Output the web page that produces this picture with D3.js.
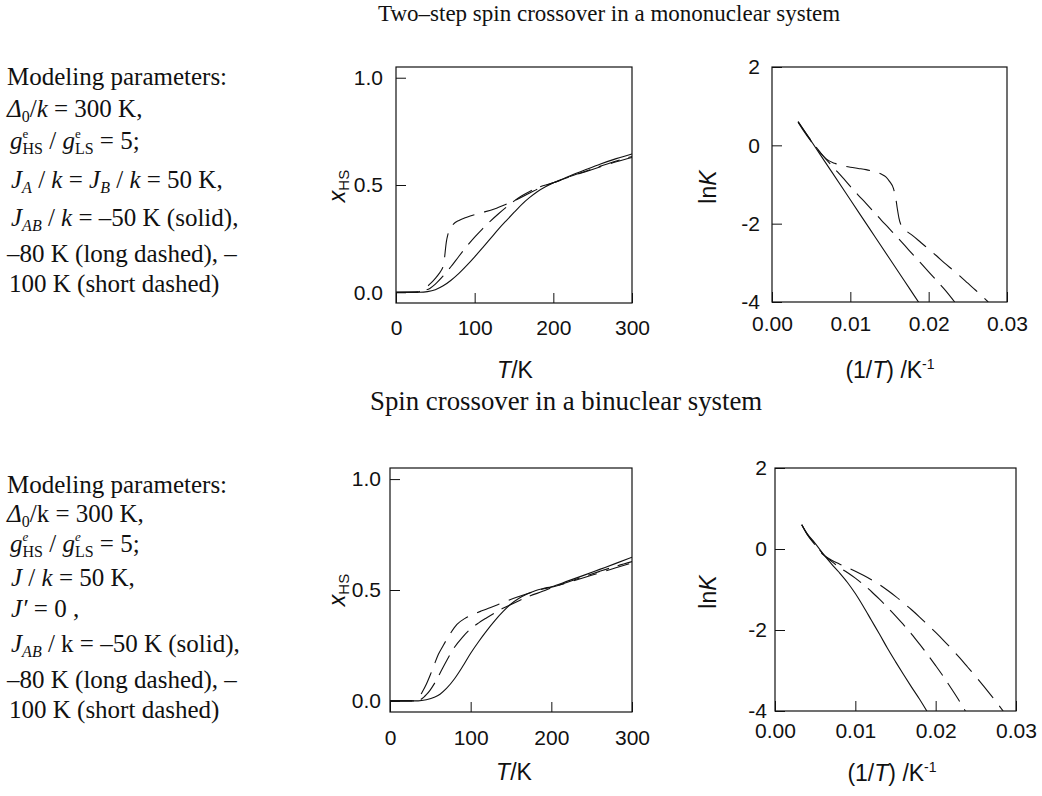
<!DOCTYPE html>
<html>
<head>
<meta charset="utf-8">
<script src="https://cdn.jsdelivr.net/npm/d3@7"></script>
<style>
  body { margin: 0; background: #fff; }
  svg { display: block; }
  .tick text { font-family: "Liberation Sans", Arial, sans-serif; font-size: 21px; fill: #111; }
  .tick line { stroke: #111; stroke-width: 1; }
  .axisTitle { font-family: "Liberation Sans", Arial, sans-serif; font-size: 23px; fill: #111; }
  .note { font-family: "Liberation Serif", "Times New Roman", serif; font-size: 25px; fill: #111; }
  .title { font-family: "Liberation Serif", "Times New Roman", serif; fill: #111; }
</style>
</head>
<body>
<div id="chart"></div>
<script>
// ---- data ----
// x_HS vs T, mononuclear (two-step)
let monoSolid = [[0,0],[30,0],[40,0.003],[50,0.012],[60,0.03],[70,0.056],[80,0.088],[90,0.125],[100,0.165],[110,0.207],[120,0.25],[130,0.293],[140,0.333],[150,0.372],[160,0.41],[170,0.442],[180,0.47],[190,0.492],[200,0.51],[220,0.541],[240,0.57],[260,0.598],[280,0.623],[300,0.645]];
let monoLong = [[0,0],[30,0.002],[36,0.008],[43,0.018],[50,0.038],[60,0.076],[70,0.12],[80,0.168],[90,0.214],[100,0.257],[110,0.296],[120,0.332],[130,0.365],[140,0.396],[150,0.425],[160,0.45],[170,0.47],[180,0.487],[200,0.51],[220,0.538],[240,0.563],[260,0.588],[280,0.612],[300,0.633]];
let monoShort = [[0,0],[25,0],[30,0.004],[35,0.014],[40,0.028],[45,0.045],[50,0.065],[55,0.088],[58,0.105],[60,0.122],[61,0.14],[62,0.17],[63,0.205],[64,0.235],[66,0.27],[69,0.298],[73,0.318],[80,0.335],[90,0.35],[100,0.362],[110,0.372],[125,0.388],[140,0.41],[155,0.435],[170,0.463],[185,0.49],[200,0.51],[220,0.537],[240,0.561],[260,0.585],[280,0.608],[300,0.628]];

// lnK vs 1/T, mononuclear
let monoLnSolid = [[0.00333,0.61],[0.005,0.11],[0.0075,-0.64],[0.01,-1.39],[0.0125,-2.14],[0.015,-2.89],[0.0175,-3.64],[0.0188,-4.03]];
let monoLnLong = [[0.00333,0.6],[0.005,0.12],[0.006,-0.14],[0.007,-0.38],[0.008,-0.6],[0.009,-0.82],[0.010,-1.05],[0.011,-1.27],[0.012,-1.48],[0.013,-1.7],[0.014,-1.92],[0.015,-2.13],[0.016,-2.35],[0.017,-2.57],[0.018,-2.79],[0.019,-3.01],[0.020,-3.23],[0.021,-3.45],[0.022,-3.67],[0.0234,-4.02]];
let monoLnShort = [[0.00333,0.59],[0.004,0.38],[0.005,0.1],[0.006,-0.15],[0.007,-0.36],[0.008,-0.46],[0.009,-0.52],[0.010,-0.56],[0.011,-0.59],[0.012,-0.62],[0.013,-0.67],[0.014,-0.74],[0.0145,-0.8],[0.015,-0.92],[0.0155,-1.1],[0.0158,-1.35],[0.016,-1.62],[0.0162,-1.85],[0.0165,-2.05],[0.017,-2.16],[0.018,-2.31],[0.019,-2.48],[0.020,-2.65],[0.021,-2.82],[0.022,-3.0],[0.023,-3.17],[0.024,-3.34],[0.025,-3.52],[0.026,-3.7],[0.0276,-4.0]];

// x_HS vs T, binuclear
let binSolid = [[0,0],[35,0],[45,0.005],[55,0.016],[62,0.03],[70,0.056],[80,0.1],[90,0.155],[100,0.215],[110,0.268],[120,0.317],[130,0.362],[140,0.402],[150,0.437],[160,0.463],[170,0.482],[180,0.497],[190,0.507],[200,0.515],[220,0.54],[240,0.566],[260,0.593],[280,0.62],[300,0.648]];
let binLong = [[0,0],[33,0],[38,0.006],[42,0.017],[45,0.028],[50,0.05],[55,0.078],[62,0.125],[70,0.18],[79,0.237],[90,0.288],[100,0.325],[110,0.352],[120,0.375],[130,0.397],[140,0.418],[150,0.435],[160,0.452],[174,0.474],[190,0.495],[200,0.51],[220,0.535],[240,0.56],[260,0.584],[280,0.607],[300,0.628]];
let binShort = [[0,0],[28,0],[32,0.005],[35,0.012],[40,0.04],[45,0.075],[50,0.118],[55,0.165],[60,0.21],[66,0.25],[75,0.305],[83,0.345],[93,0.372],[103,0.39],[113,0.405],[124,0.42],[140,0.443],[157,0.467],[170,0.483],[185,0.5],[200,0.512],[220,0.533],[240,0.555],[260,0.578],[280,0.6],[300,0.622]];

// lnK vs 1/T, binuclear
let binLnSolid = [[0.00333,0.6],[0.004,0.38],[0.005,0.14],[0.006,-0.12],[0.007,-0.36],[0.008,-0.58],[0.009,-0.82],[0.010,-1.1],[0.011,-1.42],[0.012,-1.76],[0.013,-2.1],[0.014,-2.45],[0.015,-2.78],[0.016,-3.1],[0.017,-3.41],[0.018,-3.71],[0.0189,-4.0]];
let binLnLong = [[0.00333,0.6],[0.004,0.37],[0.005,0.12],[0.006,-0.13],[0.007,-0.3],[0.008,-0.45],[0.009,-0.58],[0.010,-0.72],[0.011,-0.88],[0.012,-1.05],[0.013,-1.24],[0.014,-1.44],[0.015,-1.65],[0.016,-1.87],[0.017,-2.1],[0.018,-2.35],[0.019,-2.61],[0.020,-2.88],[0.021,-3.16],[0.022,-3.46],[0.023,-3.77],[0.0237,-4.0]];
let binLnShort = [[0.00333,0.6],[0.004,0.36],[0.005,0.1],[0.006,-0.14],[0.007,-0.27],[0.008,-0.37],[0.009,-0.46],[0.010,-0.55],[0.011,-0.65],[0.012,-0.76],[0.013,-0.88],[0.014,-1.02],[0.015,-1.17],[0.016,-1.33],[0.017,-1.5],[0.018,-1.68],[0.019,-1.87],[0.020,-2.06],[0.021,-2.26],[0.022,-2.47],[0.023,-2.69],[0.024,-2.92],[0.025,-3.15],[0.026,-3.39],[0.027,-3.64],[0.0284,-4.0]];

let xhsTicks = [0, 0.5, 1.0];
let tempTicks = [0, 100, 200, 300];
let lnTicks = [-4, -2, 0, 2];
let invTicks = [0, 0.01, 0.02, 0.03];

let titles = ["Two\u2013step spin crossover in a mononuclear system", "Spin crossover in a binuclear system"];

// ---- layout ----
let svg = d3.select("#chart").append("svg")
    .attr("width", 1042)
    .attr("height", 796);

let dashStyle = { solid: null, long: "22,9", short: "24,10" };

function plainFormat(spec) {
    let f = d3.format(spec);
    return function(d) { return f(d).replace("\u2212", "-"); };
}

function drawPanel(p) {
    let x = d3.scaleLinear().domain(p.xDomain).range([p.left, p.right]);
    let y = d3.scaleLinear().domain(p.yDomain).range([p.bottom, p.top]);
    let g = svg.append("g");

    let clipId = "clip" + p.id;
    g.append("clipPath").attr("id", clipId)
        .append("rect")
        .attr("x", p.left).attr("y", p.top)
        .attr("width", p.right - p.left).attr("height", p.bottom - p.top);

    let xAxis = d3.axisBottom(x).tickValues(p.xTicks).tickFormat(plainFormat(p.xFormat))
        .tickSizeInner(-10).tickSizeOuter(0).tickPadding(p.xPad);
    g.append("g").attr("transform", "translate(0," + p.bottom + ")").call(xAxis)
        .call(function(s) { s.select(".domain").remove(); });

    let yAxis = d3.axisLeft(y).tickValues(p.yTicks).tickFormat(plainFormat(p.yFormat))
        .tickSizeInner(-10).tickSizeOuter(0).tickPadding(p.yPad);
    g.append("g").attr("transform", "translate(" + p.left + ",0)").call(yAxis)
        .call(function(s) { s.select(".domain").remove(); });

    g.selectAll(".tick text").attr("font-family", null).attr("font-size", null);

    g.append("rect")
        .attr("x", p.left).attr("y", p.top)
        .attr("width", p.right - p.left).attr("height", p.bottom - p.top)
        .attr("fill", "none").attr("stroke", "#111").attr("stroke-width", 1.2);

    let line = d3.line()
        .x(function(d) { return x(d[0]); })
        .y(function(d) { return y(d[1]); })
        .curve(d3.curveMonotoneX);

    p.series.forEach(function(s) {
        g.append("path")
            .attr("clip-path", "url(#" + clipId + ")")
            .attr("d", line(s.data))
            .attr("fill", "none")
            .attr("stroke", "#111")
            .attr("stroke-width", 1.1)
            .attr("stroke-dasharray", dashStyle[s.style]);
    });
    return g;
}

let panels = [
    { id: 1, left: 396, right: 632, top: 67, bottom: 303, xDomain: [0, 300], yDomain: [-0.05, 1.05],
      xTicks: tempTicks, yTicks: xhsTicks, xFormat: "d", yFormat: ".1f", xPad: 17, yPad: 13,
      series: [{data: monoSolid, style: "solid"}, {data: monoLong, style: "long"}, {data: monoShort, style: "short"}] },
    { id: 2, left: 772, right: 1007, top: 67, bottom: 302, xDomain: [0, 0.03], yDomain: [-4, 2],
      xTicks: invTicks, yTicks: lnTicks, xFormat: ".2f", yFormat: "d", xPad: 14, yPad: 12,
      series: [{data: monoLnSolid, style: "solid"}, {data: monoLnLong, style: "long"}, {data: monoLnShort, style: "short"}] },
    { id: 3, left: 390, right: 632, top: 468, bottom: 712, xDomain: [0, 300], yDomain: [-0.05, 1.05],
      xTicks: tempTicks, yTicks: xhsTicks, xFormat: "d", yFormat: ".1f", xPad: 18, yPad: 9,
      series: [{data: binSolid, style: "solid"}, {data: binLong, style: "long"}, {data: binShort, style: "short"}] },
    { id: 4, left: 775, right: 1016, top: 468, bottom: 711, xDomain: [0, 0.03], yDomain: [-4, 2],
      xTicks: invTicks, yTicks: lnTicks, xFormat: ".2f", yFormat: "d", xPad: 12, yPad: 8,
      series: [{data: binLnSolid, style: "solid"}, {data: binLnLong, style: "long"}, {data: binLnShort, style: "short"}] }
];

panels.forEach(drawPanel);

// axis titles
function tempTitle(cx, by) {
    let t = svg.append("text").attr("class", "axisTitle").attr("x", cx).attr("y", by).attr("text-anchor", "middle");
    t.append("tspan").attr("font-style", "italic").text("T");
    t.append("tspan").text("/K");
}
function invTitle(cx, by) {
    let t = svg.append("text").attr("class", "axisTitle").attr("x", cx).attr("y", by).attr("text-anchor", "middle");
    t.append("tspan").text("(1/");
    t.append("tspan").attr("font-style", "italic").text("T");
    t.append("tspan").text(") /K");
    t.append("tspan").attr("font-size", "14px").attr("dy", -9).text("-1");
}
function xhsTitle(cx, cy) {
    let t = svg.append("text").attr("class", "axisTitle")
        .attr("transform", "translate(" + cx + "," + cy + ") rotate(-90)")
        .attr("text-anchor", "middle");
    t.append("tspan").attr("font-style", "italic").text("x");
    t.append("tspan").attr("font-size", "15px").attr("dy", 4).text("HS");
}
function lnTitle(cx, cy) {
    let t = svg.append("text").attr("class", "axisTitle")
        .attr("transform", "translate(" + cx + "," + cy + ") rotate(-90)")
        .attr("text-anchor", "middle");
    t.append("tspan").text("ln");
    t.append("tspan").attr("font-style", "italic").text("K");
}

tempTitle(515, 378);
invTitle(890, 378);
tempTitle(514, 780);
invTitle(892, 781);
xhsTitle(345, 186);
lnTitle(716, 187);
xhsTitle(345, 590);
lnTitle(716, 592);

// section titles
svg.append("text").attr("class", "title").attr("x", 378).attr("y", 21).attr("font-size", "23px").text(titles[0]);
svg.append("text").attr("class", "title").attr("x", 370).attr("y", 410).attr("font-size", "26.8px").text(titles[1]);

// modelling parameter notes: each segment [text, options]
// i = italic, sub/sup = small script, back = overlap previous script
let notesTop = [
    [["Modeling parameters:"]],
    [["\u0394", {i: 1}], ["0", {sub: 1}], ["/"], ["k", {i: 1}], [" = 300 K,"]],
    [["g", {i: 1}], ["e", {sup: 1}], ["HS", {sub: 1, back: 1}], [" / "], ["g", {i: 1}], ["e", {sup: 1}], ["LS", {sub: 1, back: 1}], [" = 5;"]],
    [["J", {i: 1}], ["A", {sub: 1, i: 1}], [" / "], ["k", {i: 1}], [" = "], ["J", {i: 1}], ["B", {sub: 1, i: 1}], [" / "], ["k", {i: 1}], [" = 50 K,"]],
    [["J", {i: 1}], ["AB", {sub: 1, i: 1}], [" / "], ["k", {i: 1}], [" = \u201350 K (solid),"]],
    [["\u201380 K (long dashed), \u2013"]],
    [["100 K (short dashed)"]]
];
let notesTopY = [85, 117, 149, 188, 226, 262, 292];
let notesTopX = [7, 7, 10, 11, 11, 7, 9];

let notesBottom = [
    [["Modeling parameters:"]],
    [["\u0394", {i: 1}], ["0", {sub: 1}], ["/k = 300 K,"]],
    [["g", {i: 1}], ["e", {sup: 1, i: 1}], ["HS", {sub: 1, back: 1}], [" / "], ["g", {i: 1}], ["e", {sup: 1, i: 1}], ["LS", {sub: 1, back: 1}], [" = 5;"]],
    [["J", {i: 1}], [" / "], ["k", {i: 1}], [" = 50 K,"]],
    [["J\u2032", {i: 1}], [" = 0 ,"]],
    [["J", {i: 1}], ["AB", {sub: 1, i: 1}], [" / k = \u201350 K (solid),"]],
    [["\u201380 K (long dashed), \u2013"]],
    [["100 K (short dashed)"]]
];
let notesBottomY = [493, 522, 552, 586, 617, 652, 688, 718];
let notesBottomX = [7, 7, 10, 11, 11, 11, 7, 9];

function drawNotes(lines, xs, ys) {
    lines.forEach(function(segs, li) {
        let t = svg.append("text").attr("class", "note").attr("x", xs[li]).attr("y", ys[li]);
        let shift = 0;
        let lastSupLen = 0;
        segs.forEach(function(s) {
            let o = s[1] || {};
            let sp = t.append("tspan").text(s[0]);
            if (o.i) sp.attr("font-style", "italic");
            let target = 0;
            if (o.sub) { sp.attr("font-size", "16px"); target = 5; }
            if (o.sup) { sp.attr("font-size", "13px"); target = -11; }
            sp.attr("dy", target - shift);
            shift = target;
            if (o.back) sp.attr("dx", -lastSupLen);
            if (o.sup) lastSupLen = sp.node().getComputedTextLength();
        });
    });
}
drawNotes(notesTop, notesTopX, notesTopY);
drawNotes(notesBottom, notesBottomX, notesBottomY);
</script>
</body>
</html>
